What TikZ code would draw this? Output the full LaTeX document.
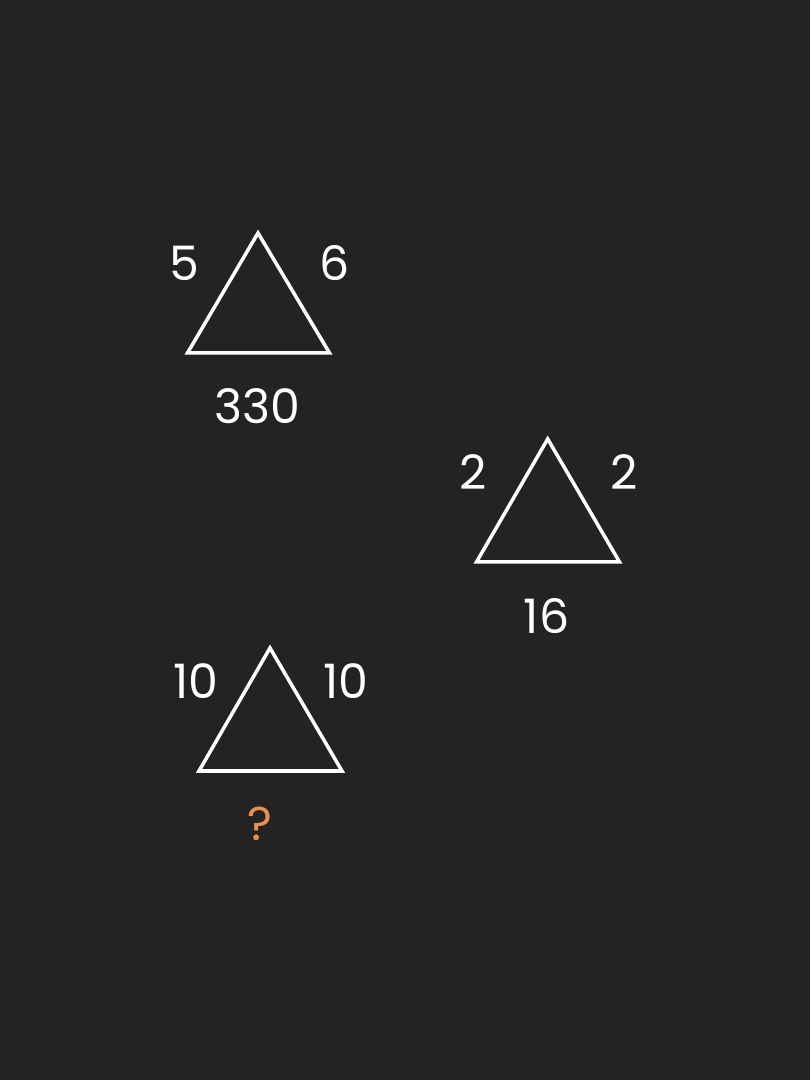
\documentclass[tikz,border=0pt]{standalone}
\usepackage{fontspec}
\setmainfont{Poppins}
\definecolor{bgdark}{HTML}{232323}
\definecolor{qorange}{HTML}{E8914F}
\tikzset{
  num/.style={text=white, inner sep=0pt, font=\fontsize{13.5}{15}\selectfont},
  tri/.style={draw=white, line width=1pt, line join=miter}
}
\begin{document}
\begin{tikzpicture}
\fill[bgdark] (0,0) rectangle (8.1,10.8);
\useasboundingbox (0,0) rectangle (8.1,10.8);
% top left
\draw[tri] (2.58,8.47) -- (3.295,7.27) -- (1.875,7.27) -- cycle;
\node[num] (a1) at (1.845,8.165) {5};
\node[num] (a2) at (3.345,8.165) {6};
\node[num] (a3) at (2.575,6.74) {330};
% middle right
\draw[tri] (5.477,6.41) -- (6.195,5.18) -- (4.765,5.18) -- cycle;
\node[num] (b1) at (4.735,6.08) {2};
\node[num] (b2) at (6.24,6.08) {2};
\node[num] (b3) at (5.465,4.64) {16};
% bottom left
\draw[tri] (2.70,4.32) -- (3.42,3.09) -- (1.99,3.09) -- cycle;
\node[num] (c1) at (1.96,3.99) {10};
\node[num] (c2) at (3.46,3.99) {10};
\node[num, text=qorange] (c3) at (2.60,2.56) {?};
\end{tikzpicture}
\end{document}
